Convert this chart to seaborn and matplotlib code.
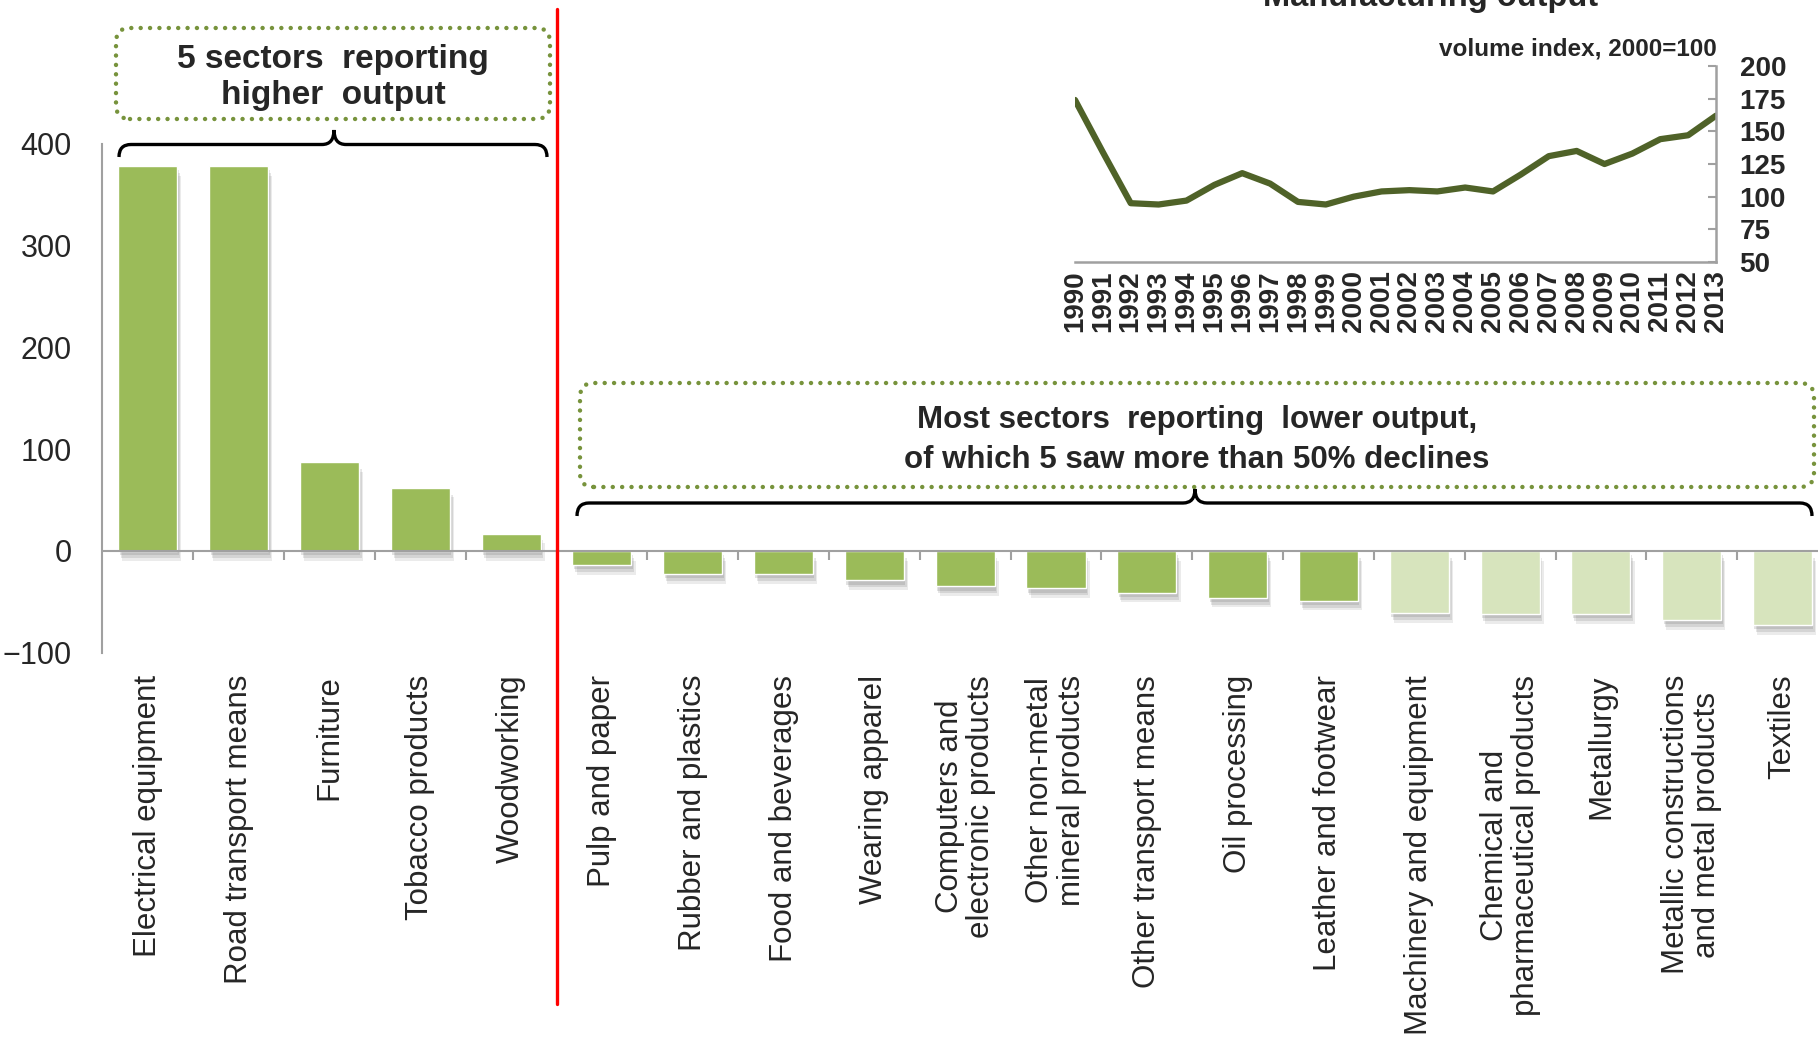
import matplotlib
matplotlib.use("Agg")
import matplotlib.pyplot as plt
import seaborn as sns
import numpy as np
import pandas as pd
from matplotlib.patches import FancyBboxPatch, PathPatch
from matplotlib.path import Path
from matplotlib.transforms import IdentityTransform
import matplotlib.patheffects as pe

# ---------------- data ----------------
sectors = ["Electrical equipment", "Road transport means", "Furniture", "Tobacco products",
           "Woodworking", "Pulp and paper", "Rubber and plastics", "Food and beverages",
           "Wearing apparel", "Computers and\nelectronic products",
           "Other non-metal\nmineral products", "Other transport means", "Oil processing",
           "Leather and footwear", "Machinery and equipment",
           "Chemical and\npharmaceutical products", "Metallurgy",
           "Metallic constructions\nand metal products", "Textiles"]
change = [378, 378, 87, 62, 17, -14, -23, -23, -29, -35, -37, -41, -46, -49,
          -61, -62, -62, -68, -73]
group = ["higher"] * 5 + ["lower"] * 9 + ["over50"] * 5

years = list(range(1990, 2014))
index = [174, 134, 95, 94, 97, 109, 118, 110, 96, 94, 100, 104, 105, 104, 107, 104,
         117, 131, 135, 125, 133, 144, 147, 162]

main_yticks = [-100, 0, 100, 200, 300, 400]
inset_yticks = [50, 75, 100, 125, 150, 175, 200]

box1_text = "5 sectors  reporting\nhigher  output"
box2_text = "Most sectors  reporting  lower output,\nof which 5 saw more than 50% declines"
inset_title = "Manufacturing output"
inset_unit = "volume index, 2000=100"

palette = {"higher": "#9BBB59", "lower": "#9BBB59", "over50": "#D7E4BD"}

# ---------------- style ----------------
sns.set_style("white")
plt.rcParams['font.family'] = ['Liberation Sans', 'DejaVu Sans']

W, H = 1818, 1041
fig = plt.figure(figsize=(W / 100, H / 100), dpi=100)

def fx(px):
    return px / W

def fy(py):
    return 1 - py / H

GRAY = "#A0A0A0"

# ---------------- main bar chart ----------------
left_px, cat_px = 102.4, 90.82
ax = fig.add_axes([fx(left_px), fy(652.6), 1 - fx(left_px), fy(143.8) - fy(652.6)])
ax.patch.set_alpha(0)
df = pd.DataFrame({"sector": sectors, "change": change, "group": group})
sns.barplot(data=df, x="sector", y="change", hue="group", palette=palette, dodge=False,
            width=0.65, saturation=1, legend=False, ax=ax, zorder=2)
for p in ax.patches:
    p.set_edgecolor("white")
    p.set_linewidth(1.0)
    p.set_path_effects([
        pe.SimplePatchShadow(offset=(1, -3), shadow_rgbFace="#606060", alpha=0.18),
        pe.SimplePatchShadow(offset=(2, -5), shadow_rgbFace="#606060", alpha=0.16),
        pe.SimplePatchShadow(offset=(3, -7), shadow_rgbFace="#606060", alpha=0.12),
        pe.Normal()])

n = len(sectors)
ax.set_xlim(-0.5, -0.5 + (W - left_px) / cat_px)
ax.set_ylim(-100, 400)
for s in ["top", "right", "bottom"]:
    ax.spines[s].set_visible(False)
ax.spines["left"].set_color(GRAY)
ax.spines["left"].set_linewidth(1.5)
ax.set_yticks(main_yticks)
ax.tick_params(axis="y", length=9, width=1.5, color=GRAY, pad=13, labelsize=22)
ax.set_xticks(range(n))
ax.set_xticklabels(sectors, rotation=90, fontsize=22.5, ha="center", va="top",
                   multialignment="center", linespacing=1.05)
ax.tick_params(axis="x", length=0, pad=16)
ax.set_xlabel("")
ax.set_ylabel("")
ax.axhline(0, color=GRAY, lw=1.5, zorder=3)
ax.vlines(np.arange(0.5, n), 0, -9, color=GRAY, lw=1.5, zorder=3)

# red divider
ax.axvline(4.5, ymin=(652.6 - 1004) / 508.8, ymax=(652.6 - 9) / 508.8, color="#FF0000",
           lw=2.4, clip_on=False, zorder=4)

# ---------------- annotation boxes ----------------
def dotted_box(x0, y0, x1, y1):
    b = FancyBboxPatch((x0, H - y1), x1 - x0, y1 - y0,
                       boxstyle="round,pad=0,rounding_size=14",
                       transform=IdentityTransform(), facecolor="none",
                       edgecolor="#77933C", lw=3.2, linestyle=(0, (0.01, 2.1)))
    b.set_capstyle("round")
    fig.patches.append(b)

def brace(x0, x1, xc, ytip, yh, yend, r=12):
    yt, yhh, yb = H - ytip, H - yh, H - yend
    verts = [(x0, yb), (x0, yhh), (x0 + r, yhh), (xc - r, yhh), (xc, yhh), (xc, yt),
             (xc, yhh), (xc + r, yhh), (x1 - r, yhh), (x1, yhh), (x1, yb)]
    codes = [Path.MOVETO, Path.CURVE3, Path.CURVE3, Path.LINETO, Path.CURVE3, Path.CURVE3,
             Path.CURVE3, Path.CURVE3, Path.LINETO, Path.CURVE3, Path.CURVE3]
    pp = PathPatch(Path(verts, codes), transform=IdentityTransform(), facecolor="none",
                   edgecolor="black", lw=2.4)
    fig.patches.append(pp)

dotted_box(116, 28, 550, 119)
brace(119, 547, 334, 130, 144.5, 157)
fig.text(fx(333), fy(77.5), box1_text, ha="center", va="center", fontsize=24,
         fontweight="bold", linespacing=1.23)

dotted_box(580, 383, 1814, 487)
brace(577, 1812, 1195, 489, 503, 516)
fig.text(fx(1197), fy(440), box2_text, ha="center", va="center", fontsize=22.5,
         fontweight="bold", linespacing=1.46)

# ---------------- inset line chart ----------------
axin = fig.add_axes([fx(1075), fy(262), fx(1716) - fx(1075), fy(66) - fy(262)])
axin.patch.set_alpha(0)
sns.lineplot(x=years, y=index, color="#4F6228", lw=4.5, ax=axin)
axin.set_xlim(1990, 2013)
axin.set_ylim(50, 200)
axin.yaxis.tick_right()
for s in ["top", "left"]:
    axin.spines[s].set_visible(False)
for s in ["right", "bottom"]:
    axin.spines[s].set_color(GRAY)
    axin.spines[s].set_linewidth(1.8)
axin.set_yticks(inset_yticks)
axin.set_xticks(years)
axin.set_xticklabels([str(y) for y in years], rotation=90, fontsize=20, fontweight="bold")
for t in axin.get_yticklabels():
    t.set_fontweight("bold")
axin.tick_params(axis="y", direction="in", length=6, width=1.5, color=GRAY, pad=17,
                 labelsize=20)
axin.tick_params(axis="x", direction="out", length=6, width=1.5, color=GRAY, pad=0)
axin.set_xlabel("")
axin.set_ylabel("")
fig.text(fx(1717), fy(49), inset_unit, ha="right", va="center", fontsize=17.5,
         fontweight="bold")
fig.text(fx(1431), fy(6), inset_title, ha="center", va="baseline", fontsize=23.5,
         fontweight="bold")

fig.savefig("out.png", dpi=100)
